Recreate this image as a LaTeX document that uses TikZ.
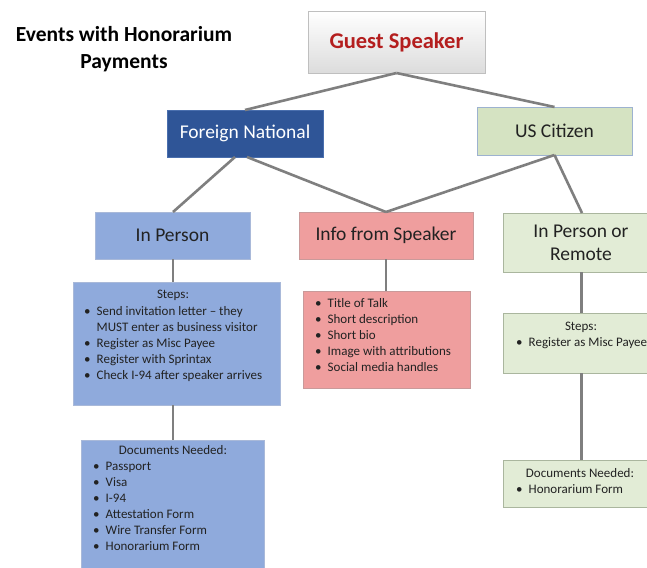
\documentclass[tikz,border=0pt]{standalone}
\usepackage{fontspec}
\setmainfont{Carlito}
\definecolor{fnblue}{HTML}{2F5597}
\definecolor{fnborder}{HTML}{4A6FAE}
\definecolor{uscgreen}{HTML}{D5E3C2}
\definecolor{uscborder}{HTML}{9DB2D0}
\definecolor{ipblue}{HTML}{8FAADC}
\definecolor{ipborder}{HTML}{A9B9D9}
\definecolor{pinkfill}{HTML}{EF9E9E}
\definecolor{pinkborder}{HTML}{C99A9A}
\definecolor{lgreen}{HTML}{E2ECD6}
\definecolor{lgborder}{HTML}{AAB69E}
\definecolor{gsborder}{HTML}{BFBFBF}
\definecolor{gsbottom}{HTML}{DCDCDC}
\definecolor{gsred}{HTML}{B41E1E}
\definecolor{linegray}{HTML}{7F7F7F}
\definecolor{textdark}{HTML}{222222}
\newcommand{\bt}{\makebox[12.5pt][l]{\textbullet}}
\newcommand{\bi}{\hspace*{12.5pt}}
\begin{document}
\begin{tikzpicture}[x=1pt,y=-1pt,
  conn/.style={draw=linegray, line width=2.6pt},
  box/.style={line width=0.8pt, anchor=north west, inner sep=0pt, outer sep=0pt, align=center},
  lvl/.style={font=\fontsize{19.5}{23}\selectfont, text=textdark},
  bluebox/.style={box, fill=ipblue, draw=ipborder},
  pinkbox/.style={box, fill=pinkfill, draw=pinkborder},
  greenbox/.style={box, fill=lgreen, draw=lgborder},
  hd/.style={font=\fontsize{13}{16}\selectfont, text=textdark, anchor=base, inner sep=0pt},
  lst/.style={font=\fontsize{13}{16}\selectfont, text=textdark, anchor=base west, inner sep=0pt},
]
\useasboundingbox (0,0) rectangle (647,567);
\fill[white] (0,0) rectangle (647,567);
\clip (0,0) rectangle (647,567);

% title
\node[font=\fontsize{21.5}{27}\selectfont\bfseries, text=black, align=center, anchor=base] (title) at (124,69) {Events with Honorarium\\Payments};

% level boxes
\node[box, draw=gsborder, top color=white, bottom color=gsbottom, minimum width=177pt, minimum height=62pt,
      font=\fontsize{22.5}{27}\selectfont\bfseries, text=gsred] (gs) at (308,11) {Guest Speaker};
\node[box, fill=fnblue, draw=fnborder, minimum width=156pt, minimum height=47pt,
      font=\fontsize{19.5}{23}\selectfont, text=white] (fn) at (167,110) {Foreign National};
\node[box, fill=uscgreen, draw=uscborder, minimum width=155pt, minimum height=48pt, lvl] (usc) at (477,107) {US Citizen};
\node[bluebox, minimum width=155pt, minimum height=47pt, lvl] (ip) at (95,212) {In Person};
\node[pinkbox, minimum width=174pt, minimum height=47pt, lvl] (info) at (299,212) {Info from Speaker};
\node[greenbox, minimum width=156pt, minimum height=59pt, lvl] (ipr) at (503,213) {In Person or\\Remote};

% detail boxes
\node[bluebox, minimum width=207pt, minimum height=123pt] (stepsl) at (73,282) {};
\node[pinkbox, minimum width=167pt, minimum height=97pt] (listm) at (303,291) {};
\node[greenbox, minimum width=156pt, minimum height=60pt] (stepsr) at (503,313) {};
\node[bluebox, minimum width=183pt, minimum height=140pt] (docsl) at (81,440) {};
\node[greenbox, minimum width=156pt, minimum height=47pt] (docsr) at (503,460) {};

% detail texts
\node[hd] (stepslh) at (173,298) {Steps:};
\node[lst] (stepslt) at (84,315) {\begin{tabular}[t]{@{}l@{}}
\bt Send invitation letter -- they\\
\bi MUST enter as business visitor\\
\bt Register as Misc Payee\\
\bt Register with Sprintax\\
\bt Check I-94 after speaker arrives
\end{tabular}};
\node[lst] (listmt) at (315,307) {\begin{tabular}[t]{@{}l@{}}
\bt Title of Talk\\
\bt Short description\\
\bt Short bio\\
\bt Image with attributions\\
\bt Social media handles
\end{tabular}};
\node[hd] (stepsrh) at (581,330) {Steps:};
\node[lst] (stepsrt) at (516,346) {\begin{tabular}[t]{@{}l@{}}
\bt Register as Misc Payee
\end{tabular}};
\node[hd] (docslh) at (173,454) {Documents Needed:};
\node[lst] (docslt) at (93,470) {\begin{tabular}[t]{@{}l@{}}
\bt Passport\\
\bt Visa\\
\bt I-94\\
\bt Attestation Form\\
\bt Wire Transfer Form\\
\bt Honorarium Form
\end{tabular}};
\node[hd] (docsrh) at (580,477) {Documents Needed:};
\node[lst] (docsrt) at (516,493) {\begin{tabular}[t]{@{}l@{}}
\bt Honorarium Form
\end{tabular}};

% connectors
\draw[conn] (gs.south) -- (fn.north);
\draw[conn] (gs.south) -- (usc.north);
\draw[conn] ([xshift=-10pt]fn.south) -- ([xshift=0.5pt]ip.north);
\draw[conn] ([xshift=2pt]fn.south) -- (info.north);
\draw[conn] (usc.south) -- (info.north);
\draw[conn] (usc.south) -- ([xshift=1pt]ipr.north);
\draw[conn] ([xshift=0.5pt]ip.south) -- ([xshift=0.5pt]ip.south |- stepsl.north);
\draw[conn] ([xshift=0.5pt]ip.south |- stepsl.south) -- ([xshift=0.5pt]ip.south |- docsl.north);
\draw[conn] (info.south) -- (info.south |- listm.north);
\draw[conn] ([xshift=0.5pt]ipr.south) -- ([xshift=0.5pt]ipr.south |- stepsr.north);
\draw[conn] ([xshift=0.5pt]ipr.south |- stepsr.south) -- ([xshift=0.5pt]ipr.south |- docsr.north);
\end{tikzpicture}
\end{document}
